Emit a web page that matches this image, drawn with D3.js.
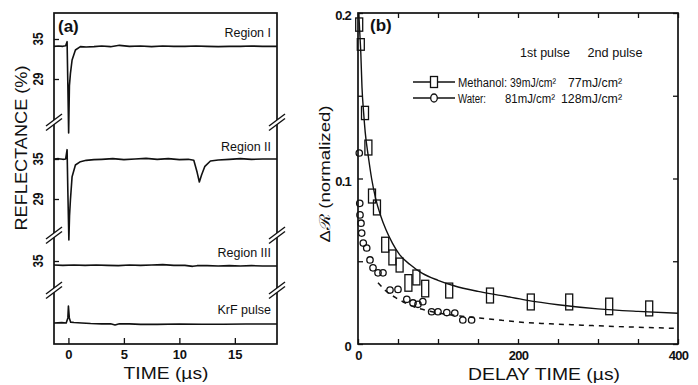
<!DOCTYPE html>
<html><head><meta charset="utf-8">
<script src="https://cdn.jsdelivr.net/npm/d3@7"></script>
<style>
body{margin:0;background:#fff;}
svg{display:block;}
text{font-family:"Liberation Sans",Arial,sans-serif;fill:#111;}
</style></head><body>
<svg id="chart" width="698" height="385"></svg>
<script>
// ================= DATA =================
// Panel (a): reflectance traces vs time (µs)
const regionITime  = [-1.3,-0.9,-0.5,-0.25,-0.12,-0.05,0.02,0.09,0.18,0.33,0.63,1.08,1.6,2.3,3,3.8,4.6,5.5,6.5,7.5,8.5,9.5,10.5,11.5,12.5,13.5,14.5,15.5,16.5,17.5,18.8];
const regionIValue = [33.9,33.95,33.9,34.0,34.6,28,20.9,28.0,29.8,31.85,33.35,33.85,33.8,33.85,33.95,33.85,34.05,33.9,33.95,33.85,33.95,33.9,33.9,33.95,33.9,33.85,33.9,33.9,33.95,33.9,33.9];

const regionIITime  = [-1.3,-0.9,-0.5,-0.25,-0.12,-0.05,0.04,0.1,0.18,0.33,0.63,1.08,1.6,2.3,3,4,5,6,7,8,9,10,10.8,11.3,11.6,11.8,12.0,12.3,12.8,13.5,14.5,15.5,16.5,17.5,18.8];
const regionIIValue = [35.0,35.05,34.95,35.0,36.4,30,22.85,26.5,28.85,32.35,34.1,34.6,34.8,34.9,34.95,35.05,34.9,35.0,35.1,34.95,35.05,34.9,34.95,34.8,33.0,31.55,32.6,33.9,34.7,34.85,34.95,35.05,34.95,35.0,35.0];

const regionIIITime  = [-1.3,-0.5,0.5,1.5,2.5,3.5,4.5,5.5,6.5,7.5,8.5,9.5,10.5,11.2,11.6,12.5,13.5,14.5,15.5,16.5,17.5,18.8];
const regionIIIValue = [34.4,34.35,34.4,34.35,34.4,34.35,34.3,34.4,34.35,34.4,34.45,34.35,34.35,34.2,34.3,34.3,34.25,34.3,34.25,34.3,34.25,34.25];

const krfTime  = [-1.3,-0.6,-0.2,-0.05,0.0,0.08,0.2,0.5,1.2,2,3,3.8,4.2,4.6,5.5,6.5,8,10,12,14,16,18.8];
const krfValue = [0.0,0.02,0.0,0.3,1.0,0.3,0.05,0.03,0.0,-0.03,-0.05,-0.05,-0.12,-0.04,-0.05,-0.08,-0.08,-0.06,-0.07,-0.07,-0.06,-0.06];

const regionLabels = ["Region I","Region II","Region III","KrF pulse"];
const regionITicks = [35,29];
const regionIITicks = [35,29];
const regionIIITicks = [35];
const timeTicks = [0,5,10,15];

// Panel (b): normalized ΔR vs delay time (µs)
const methanolTime  = [1.5,3.5,8.75,13,17.5,23.7,34,43,52,63,73,84,114,165,216,264,314,364];
const methanolValue = [0.193,0.181,0.1396,0.1187,0.0894,0.0825,0.060,0.0523,0.0477,0.0369,0.0402,0.0335,0.0323,0.0293,0.0254,0.0254,0.0227,0.0215];
const methanolErr   = [0.004,0.0035,0.004,0.0045,0.0042,0.0045,0.0045,0.0045,0.0042,0.005,0.0045,0.005,0.0045,0.0045,0.0048,0.0048,0.005,0.0045];

const waterTime  = [1.6,2.2,2.5,3.75,4.6,6.6,10.9,15,18.75,25,31.25,40,50,61,68.75,75,81,92,100,111,121,131,142];
const waterValue = [0.1154,0.085,0.078,0.073,0.067,0.061,0.058,0.0508,0.046,0.043,0.043,0.0326,0.033,0.027,0.0248,0.024,0.0256,0.0195,0.0195,0.019,0.0187,0.0145,0.0145];

const methanolFitTime  = [1,2,3.5,5,7,9,13,17,22,28,35,43,52,65,80,100,120,150,180,210,250,300,350,400];
const methanolFitValue = [0.2,0.19,0.176,0.155,0.14,0.128,0.113,0.1,0.088,0.078,0.069,0.061,0.054,0.048,0.0428,0.0385,0.0352,0.0318,0.0292,0.0265,0.0237,0.0212,0.0197,0.0186];

const waterFitTime  = [25,35,50,70,90,110,130,152,180,200,240,280,320,360,400];
const waterFitValue = [0.037,0.032,0.0272,0.0225,0.0198,0.018,0.0168,0.0157,0.0143,0.0133,0.0122,0.0114,0.0106,0.0100,0.0094];

const delayTicks = [0,50,100,150,200,250,300,350,400];
const delayLabels = [0,200,400];
const drTicks = [0,0.05,0.1,0.15,0.2];
const drLabels = [0,0.1,0.2];

const legendNames = ["Methanol:","Water:"];
const legendFirst = ["39mJ/cm²","81mJ/cm²"];
const legendSecond = ["77mJ/cm²","128mJ/cm²"];
const legendHeader = ["1st pulse","2nd pulse"];

// ================= DRAW =================
const svg = d3.select("#chart");
const ink = "#111";

// ---------- Panel (a) ----------
const A = {l:54, r:277, t:13, b:344};
const xA = d3.scaleLinear().domain([-1.3,18.8]).range([A.l,A.r]);
const yI   = d3.scaleLinear().domain([29,35]).range([79,39]);
const yII  = d3.scaleLinear().domain([29,35]).range([199,159]);
const yIII = d3.scaleLinear().domain([29,35]).range([301,261]);
const yK   = d3.scaleLinear().domain([0,1]).range([323,306]);

const traces = [
  {t:regionITime, v:regionIValue, y:yI},
  {t:regionIITime, v:regionIIValue, y:yII},
  {t:regionIIITime, v:regionIIIValue, y:yIII},
  {t:krfTime, v:krfValue, y:yK}
];
const gA = svg.append("g");
traces.forEach(tr => {
  const pts = tr.t.map((t,i)=>[t,tr.v[i]]);
  gA.append("path")
    .attr("d", d3.line().x(d=>xA(d[0])).y(d=>tr.y(d[1]))(pts))
    .attr("fill","none").attr("stroke",ink).attr("stroke-width",1.6)
    .attr("stroke-linejoin","round");
});

// frame
gA.append("rect").attr("x",A.l).attr("y",A.t).attr("width",A.r-A.l).attr("height",A.b-A.t)
  .attr("fill","none").attr("stroke",ink).attr("stroke-width",1.7);

// x axis ticks (inward)
const axA = gA.append("g").attr("transform",`translate(0,${A.b})`)
  .call(d3.axisBottom(xA).tickValues(timeTicks).tickSize(-6).tickPadding(6));
axA.select(".domain").remove();
axA.selectAll("line").attr("stroke",ink).attr("stroke-width",1.3);
axA.selectAll("text").attr("font-size",13).attr("font-weight","bold").attr("fill",ink).style("font-family","Liberation Sans, Arial, sans-serif");

// y ticks per band
[[yI,regionITicks],[yII,regionIITicks],[yIII,regionIIITicks]].forEach(([ys,ticks])=>{
  const g = gA.append("g").attr("transform",`translate(${A.l},0)`)
    .call(d3.axisLeft(ys).tickValues(ticks).tickSize(-5).tickFormat(""));
  g.select(".domain").remove();
  g.selectAll("line").attr("stroke",ink).attr("stroke-width",1.3);
  ticks.forEach(v=>{
    const yy = ys(v);
    gA.append("text").attr("x",43).attr("y",yy)
      .attr("transform",`rotate(-90,43,${yy})`)
      .attr("text-anchor","middle").attr("font-size",15).attr("font-weight","bold")
      .attr("textLength",13).attr("lengthAdjust","spacingAndGlyphs")
      .text(v);
  });
});

// region labels
const labelY = [37,151,257,314];
regionLabels.forEach((s,i)=>{
  gA.append("text").attr("x",271).attr("y",labelY[i]).attr("text-anchor","end")
    .attr("font-size",12.5).text(s);
});

// axis breaks
function brk(g,x,y){
  const dx=8, dy=6, gap=4.5;
  g.append("path").attr("d",`M${x-dx},${y+dy}L${x+dx},${y-dy}L${x+dx},${y-dy+gap}L${x-dx},${y+dy+gap}Z`)
    .attr("fill","#fff").attr("stroke","none");
  [0,gap].forEach(o=>{
    g.append("line").attr("x1",x-dx).attr("y1",y+dy+o).attr("x2",x+dx).attr("y2",y-dy+o)
      .attr("stroke",ink).attr("stroke-width",1.4);
  });
}
[120,233,288].forEach(y=>{ brk(gA,A.l,y); brk(gA,A.r,y); });

gA.append("text").attr("x",58).attr("y",32).attr("font-size",17).attr("font-weight","bold").text("(a)");
gA.append("text").attr("x",27).attr("y",148).attr("transform","rotate(-90,27,148)")
  .attr("text-anchor","middle").attr("font-size",17)
  .attr("textLength",165).attr("lengthAdjust","spacingAndGlyphs").text("REFLECTANCE (%)");
gA.append("text").attr("x",166).attr("y",379).attr("text-anchor","middle").attr("font-size",17)
  .attr("textLength",85).attr("lengthAdjust","spacingAndGlyphs").text("TIME (µs)");

// ---------- Panel (b) ----------
const B = {l:358, r:678, t:13, b:344};
const xB = d3.scaleLinear().domain([0,400]).range([B.l,B.r]);
const yB = d3.scaleLinear().domain([0,0.2]).range([B.b,B.t]);
const gB = svg.append("g");
const clip = svg.append("clipPath").attr("id","clipB");
clip.append("rect").attr("x",B.l).attr("y",B.t).attr("width",B.r-B.l).attr("height",B.b-B.t);

const line = d3.line().x(d=>xB(d[0])).y(d=>yB(d[1])).curve(d3.curveMonotoneX);
gB.append("path").attr("clip-path","url(#clipB)")
  .attr("d",line(methanolFitTime.map((t,i)=>[t,methanolFitValue[i]])))
  .attr("fill","none").attr("stroke",ink).attr("stroke-width",1.4);
gB.append("path").attr("clip-path","url(#clipB)")
  .attr("d",line(waterFitTime.map((t,i)=>[t,waterFitValue[i]])))
  .attr("fill","none").attr("stroke",ink).attr("stroke-width",1.5).attr("stroke-dasharray","5,5");

// methanol boxes
gB.selectAll("rect.meth").data(methanolTime.map((t,i)=>({t,v:methanolValue[i],e:methanolErr[i]})))
  .enter().append("rect").attr("class","meth")
  .attr("x",d=>xB(d.t)-3.5).attr("width",7)
  .attr("y",d=>yB(d.v+d.e)).attr("height",d=>yB(d.v-d.e)-yB(d.v+d.e))
  .attr("fill","none").attr("stroke",ink).attr("stroke-width",1.3);
// water circles
gB.selectAll("circle.wat").data(waterTime.map((t,i)=>({t,v:waterValue[i]})))
  .enter().append("circle").attr("class","wat")
  .attr("cx",d=>xB(d.t)).attr("cy",d=>yB(d.v)).attr("r",3.2)
  .attr("fill","none").attr("stroke",ink).attr("stroke-width",1.3);

// frame
gB.append("rect").attr("x",B.l).attr("y",B.t).attr("width",B.r-B.l).attr("height",B.b-B.t)
  .attr("fill","none").attr("stroke",ink).attr("stroke-width",1.7);

function styleAxis(g){
  g.select(".domain").remove();
  g.selectAll("line").attr("stroke",ink).attr("stroke-width",1.3);
  g.selectAll("text").attr("font-size",13).attr("font-weight","bold").attr("fill",ink)
    .style("font-family","Liberation Sans, Arial, sans-serif").attr("letter-spacing","-0.8");
}
const fmtX = d => delayLabels.includes(d) ? String(d) : "";
const fmtY = d => drLabels.some(v=>Math.abs(v-d)<1e-9) ? (d===0?"0":String(d)) : "";
styleAxis(gB.append("g").attr("transform",`translate(0,${B.b})`)
  .call(d3.axisBottom(xB).tickValues(delayTicks).tickSize(-5).tickPadding(7).tickFormat(fmtX)));
styleAxis(gB.append("g").attr("transform",`translate(0,${B.t})`)
  .call(d3.axisTop(xB).tickValues(delayTicks).tickSize(-5).tickFormat("")));
const ly = gB.append("g").attr("transform",`translate(${B.l},0)`)
  .call(d3.axisLeft(yB).tickValues(drTicks).tickSize(-5).tickPadding(7).tickFormat(fmtY));
styleAxis(ly);
ly.selectAll("text").attr("dy","0.5em");
styleAxis(gB.append("g").attr("transform",`translate(${B.r},0)`)
  .call(d3.axisRight(yB).tickValues(drTicks).tickSize(-5).tickFormat("")));

gB.append("text").attr("x",370).attr("y",31).attr("font-size",17).attr("font-weight","bold").text("(b)");
gB.append("text").attr("x",330).attr("y",174).attr("transform","rotate(-90,330,174)")
  .attr("text-anchor","middle").attr("font-size",15)
  .attr("textLength",137).attr("lengthAdjust","spacingAndGlyphs").text("Δℛ (normalized)");
gB.append("text").attr("x",544).attr("y",380).attr("text-anchor","middle").attr("font-size",17)
  .attr("textLength",152).attr("lengthAdjust","spacingAndGlyphs").text("DELAY TIME (µs)");

// legend
gB.append("text").attr("x",545).attr("y",57).attr("text-anchor","middle").attr("font-size",12)
  .attr("textLength",50).attr("lengthAdjust","spacingAndGlyphs").text(legendHeader[0]);
gB.append("text").attr("x",615).attr("y",57).attr("text-anchor","middle").attr("font-size",12)
  .attr("textLength",55).attr("lengthAdjust","spacingAndGlyphs").text(legendHeader[1]);
const rowY = [82,98];
const nameLen = [49,28];
const firstEnd = [556,555], firstLen = [46,50];
const secondEnd = [622,622], secondLen = [54,61];
legendNames.forEach((name,i)=>{
  const y = rowY[i];
  gB.append("line").attr("x1",413).attr("x2",455).attr("y1",y).attr("y2",y)
    .attr("stroke",ink).attr("stroke-width",1.4);
  if(i===0){
    gB.append("rect").attr("x",430.5).attr("y",y-5.5).attr("width",7).attr("height",11)
      .attr("fill","#fff").attr("stroke",ink).attr("stroke-width",1.3);
  } else {
    gB.append("ellipse").attr("cx",434).attr("cy",y).attr("rx",3.3).attr("ry",4)
      .attr("fill","#fff").attr("stroke",ink).attr("stroke-width",1.3);
  }
  gB.append("text").attr("x",458).attr("y",y+4.5).attr("font-size",12)
    .attr("textLength",nameLen[i]).attr("lengthAdjust","spacingAndGlyphs").text(name);
  gB.append("text").attr("x",firstEnd[i]).attr("y",y+4.5).attr("text-anchor","end").attr("font-size",12)
    .attr("textLength",firstLen[i]).attr("lengthAdjust","spacingAndGlyphs").text(legendFirst[i]);
  gB.append("text").attr("x",secondEnd[i]).attr("y",y+4.5).attr("text-anchor","end").attr("font-size",12)
    .attr("textLength",secondLen[i]).attr("lengthAdjust","spacingAndGlyphs").text(legendSecond[i]);
});
</script>
</body></html>
